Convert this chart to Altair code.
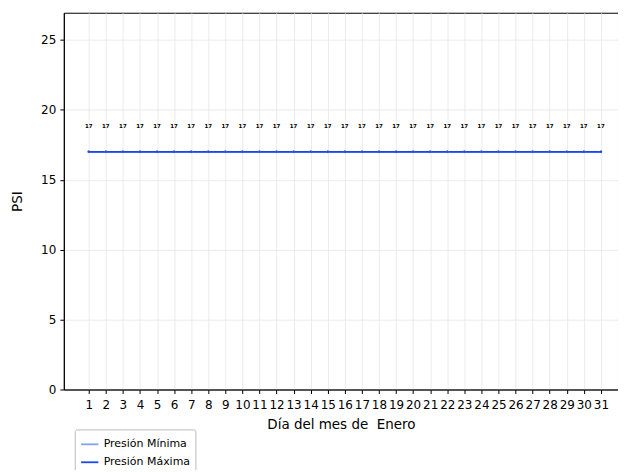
import altair as alt
import pandas as pd

days = list(range(1, 32))
presion_minima = [17] * 31
presion_maxima = [17] * 31
series_names = ["Presión Mínima", "Presión Máxima"]
series_colors = ["#7fa2f2", "#1a44f5"]

rows = []
for d, v in zip(days, presion_minima):
    rows.append({"dia": d, "psi": v, "serie": series_names[0]})
for d, v in zip(days, presion_maxima):
    rows.append({"dia": d, "psi": v, "serie": series_names[1]})
df = pd.DataFrame(rows)
df_max = df[df["serie"] == series_names[1]]

font = "DejaVu Sans"

x_enc = alt.X("dia:Q",
              scale=alt.Scale(domain=[-0.46, 32], nice=False, zero=False),
              axis=alt.Axis(values=days, title="Día del mes de \u00a0Enero", format="d",
                            labelFlush=False, labelOverlap=False, tickCount=31))
y_enc = alt.Y("psi:Q",
              scale=alt.Scale(domain=[0, 26.95], nice=False),
              axis=alt.Axis(values=[0, 5, 10, 15, 20, 25], title="PSI"))

lines = alt.Chart(df).mark_line(strokeWidth=1.8, point=alt.OverlayMarkDef(size=6, filled=True)).encode(
    x=x_enc,
    y=y_enc,
    color=alt.Color("serie:N",
                    scale=alt.Scale(domain=series_names, range=series_colors),
                    sort=series_names,
                    legend=alt.Legend(title=None, orient="none", legendX=11, legendY=418,
                                      symbolType="stroke", symbolStrokeWidth=1.8, symbolSize=300,
                                      labelFontSize=11, labelFont=font, rowPadding=3,
                                      fillColor="white", strokeColor="#bbbbbb", padding=5,
                                      cornerRadius=2)),
    order=alt.Order("serie:N", sort="descending"),
)

labels = alt.Chart(df_max).mark_text(fontSize=5.5, dy=-26, font=font, color="black", fontWeight="bold").encode(
    x=x_enc,
    y=y_enc,
    text=alt.Text("psi:Q", format="d"),
)

chart = (lines + labels).properties(
    width=556, height=378,
    autosize=alt.AutoSizeParams(type="none"),
    padding={"left": 56, "top": 4, "right": 0, "bottom": 80},
).configure_view(
    stroke="black", strokeWidth=1
).configure_axis(
    grid=True, gridColor="#e6e6e6", gridWidth=0.8,
    domainColor="black", tickColor="black", tickSize=4,
    labelFont=font, labelFontSize=12, labelColor="black",
    titleFont=font, titleFontSize=13.5, titleFontWeight="normal", titleColor="black",
).configure_axisX(
    titlePadding=7, labelPadding=6
).configure_axisY(
    titlePadding=16, labelPadding=4
)

chart.save("out.html", embed_options={"renderer": "svg", "actions": False})
